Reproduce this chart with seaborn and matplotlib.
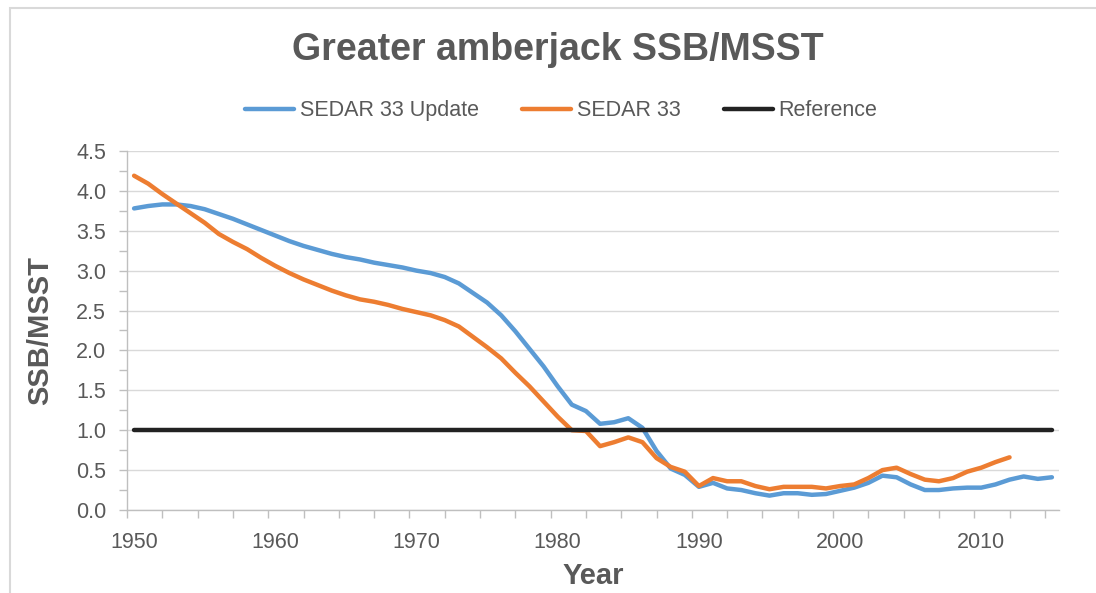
import matplotlib
matplotlib.use('Agg')
import matplotlib.pyplot as plt
import seaborn as sns
import numpy as np
import pandas as pd
from matplotlib.patches import Rectangle
from matplotlib.ticker import MultipleLocator, FixedLocator, FormatStrFormatter

# values
update_years = list(range(1950, 2016))
update_ssb = [3.78, 3.81, 3.83, 3.83, 3.81, 3.77, 3.71, 3.65, 3.58, 3.51,
              3.44, 3.37, 3.31, 3.26, 3.21, 3.17, 3.14, 3.10, 3.07, 3.04,
              3.00, 2.97, 2.92, 2.84, 2.72, 2.60, 2.44, 2.24, 2.02, 1.80,
              1.55, 1.32, 1.24, 1.08, 1.10, 1.15, 1.03, 0.74, 0.52, 0.44,
              0.29, 0.34, 0.27, 0.25, 0.21, 0.18, 0.21, 0.21, 0.19, 0.20,
              0.24, 0.28, 0.34, 0.43, 0.41, 0.32, 0.25, 0.25, 0.27, 0.28,
              0.28, 0.32, 0.38, 0.42, 0.39, 0.41]

sedar33_years = list(range(1950, 2013))
sedar33_ssb = [4.19, 4.09, 3.96, 3.84, 3.72, 3.60, 3.46, 3.36, 3.27, 3.16,
               3.06, 2.97, 2.89, 2.82, 2.75, 2.69, 2.64, 2.61, 2.57, 2.52,
               2.48, 2.44, 2.38, 2.30, 2.17, 2.04, 1.90, 1.72, 1.55, 1.36,
               1.17, 1.00, 0.99, 0.80, 0.85, 0.91, 0.85, 0.65, 0.54, 0.48,
               0.30, 0.40, 0.36, 0.36, 0.30, 0.26, 0.29, 0.29, 0.29, 0.27,
               0.30, 0.32, 0.40, 0.50, 0.53, 0.45, 0.38, 0.36, 0.40, 0.48,
               0.53, 0.60, 0.66]

reference_years = update_years
reference_val = [1.0] * len(reference_years)

year_labels = [1950, 1960, 1970, 1980, 1990, 2000, 2010]

sns.set_theme(style="white")
plt.rcParams['font.family'] = ['Liberation Sans', 'DejaVu Sans']

txt = '#595959'
fig = plt.figure(figsize=(10.96, 5.93), dpi=100)
ax = fig.add_axes([0.1159, 0.14, 0.8503, 0.6054])

sns.lineplot(x=update_years, y=update_ssb, ax=ax, color='#5B9BD5', lw=3.2,
             label='SEDAR 33 Update')
sns.lineplot(x=sedar33_years, y=sedar33_ssb, ax=ax, color='#ED7D31', lw=3.2,
             label='SEDAR 33')
sns.lineplot(x=reference_years, y=reference_val, ax=ax, color='#222222', lw=3.2,
             label='Reference')

ax.set_xlim(1949.5, 2015.5)
ax.set_ylim(0, 4.5)

ax.yaxis.set_major_locator(MultipleLocator(0.5))
ax.yaxis.set_minor_locator(MultipleLocator(0.25))
ax.yaxis.set_major_formatter(FormatStrFormatter('%.1f'))
ax.xaxis.set_major_locator(FixedLocator(year_labels))
ax.xaxis.set_minor_locator(FixedLocator(np.arange(1949.5, 2016, 2.5)))

ax.grid(axis='y', which='major', color='#D9D9D9', lw=1)
ax.grid(axis='x', visible=False)
for s in ['top', 'right']:
    ax.spines[s].set_visible(False)
for s in ['left', 'bottom']:
    ax.spines[s].set_color('#BFBFBF')
    ax.spines[s].set_linewidth(1)

ax.tick_params(axis='x', which='major', length=0, labelsize=15.5, labelcolor=txt, pad=16)
ax.tick_params(axis='x', which='minor', length=6, color='#BFBFBF', width=1, direction='out', bottom=True)
ax.tick_params(axis='y', which='both', length=6, color='#BFBFBF', width=1, direction='out', left=True,
               labelsize=15.5, labelcolor=txt, pad=9)

ax.set_xlabel('Year', fontsize=21, fontweight='bold', color=txt, labelpad=6)
ax.set_ylabel('SSB/MSST', fontsize=21, fontweight='bold', color=txt, labelpad=16)

fig.text(0.509, 0.916, 'Greater amberjack SSB/MSST', ha='center', va='center',
         fontsize=27, fontweight='bold', color=txt)

ax.legend(loc='center', bbox_to_anchor=(0.512, 0.813), bbox_transform=fig.transFigure,
          ncol=3, frameon=False, fontsize=15.5, labelcolor=txt, handlelength=2.3,
          handletextpad=0.25, columnspacing=2.0)

fig.patches.append(Rectangle((10 / 1096, -0.1), 1.2, 1 - 8 / 593 + 0.1, transform=fig.transFigure,
                             fill=False, edgecolor='#D9D9D9', lw=1.5))

fig.savefig('out.png', dpi=100)
